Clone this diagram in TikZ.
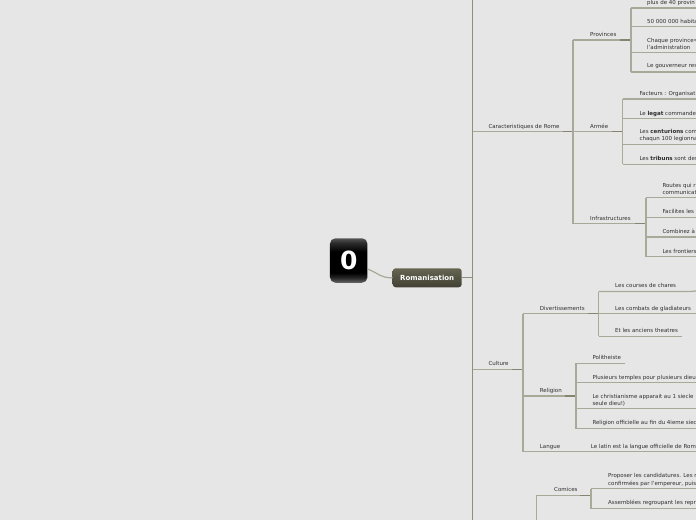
\documentclass[tikz,border=0pt]{standalone}
\usepackage{fontspec}
\setmainfont{DejaVu Sans}
\definecolor{bgc}{HTML}{E6E6E6}
\definecolor{linec}{HTML}{A9A99A}
\definecolor{stubc}{HTML}{85856F}
\definecolor{mainc}{HTML}{8F8F7E}
\definecolor{txtc}{HTML}{2E2E2E}
\definecolor{ic1}{HTML}{6A6A6A}
\definecolor{ic2}{HTML}{2C2C2C}
\definecolor{ic3}{HTML}{555555}
\definecolor{rt1}{HTML}{666552}
\definecolor{rt2}{HTML}{403F33}
\pgfdeclareverticalshading{iconshade}{100bp}{color(0bp)=(ic1);color(25bp)=(ic1);color(30bp)=(ic2);color(36bp)=(black);color(60bp)=(black);color(70bp)=(ic2);color(75bp)=(ic3);color(100bp)=(ic3)}
\pgfdeclareverticalshading{rootshade}{100bp}{color(0bp)=(rt2);color(25bp)=(rt2);color(75bp)=(rt1);color(100bp)=(rt1)}
\tikzset{
  x=1pt,y=-1pt,
  lbl/.style={anchor=west,inner sep=0pt,text=txtc,align=left,font=\fontsize{5.5}{7.2}\selectfont},
  branch/.style={draw=linec,line width=1.25pt},
  stub/.style={draw=stubc,line width=1.5pt},
  spine/.style={draw=mainc,line width=1.1pt},
  rootbox/.style={rounded corners=3pt,minimum width=69pt,minimum height=19pt,inner sep=0pt,
    shading=rootshade,text=white,font=\fontsize{7}{8}\selectfont\bfseries},
  iconbox/.style={rounded corners=5.5pt,minimum width=37.5pt,minimum height=44.5pt,inner sep=0pt,
    shading=iconshade,text=white,font=\fontsize{25}{27}\selectfont\bfseries},
}
\begin{document}
\begin{tikzpicture}
\useasboundingbox (0,0) rectangle (696,520);
\fill[bgc] (0,0) rectangle (696,520);
\clip (0,0) rectangle (696,520);
% root
\node[rootbox] (root) at (427.2,277.8) {Romanisation};
\node[iconbox] (icon) at (348.7,260.5) {0};
\draw[draw=linec,line width=1.2pt] (icon.east |- 0,269) .. controls (380,274) and (380,277.8) .. (root.west);
% spine
\coordinate (sTop) at (472.5,0);
\coordinate (sBot) at (472.5,520);
\coordinate (sRoot) at (472.5,277.8);
\draw[spine] (sTop) -- (sBot);
\draw[spine] (root.east) -- (sRoot);
% level 1
\coordinate (sCar) at (472.5,131.7);
\coordinate (sCul) at (472.5,369.3);
\coordinate (jCar) at (573,131.7);
\coordinate (jCul) at (523,369.3);
\draw[branch] (sCar) -- (jCar);
\draw[stub] (563,131.7) -- (jCar);
\draw[branch] (sCul) -- (jCul);
\draw[stub] (512,369.3) -- (jCul);
\node[lbl] (car) at (488.3,126.5) {Caracteristiques de Rome};
\node[lbl] (cul) at (488.3,363.5) {Culture};
% Caracteristiques children
\coordinate (jProvT) at (573,40);
\coordinate (jInfB) at (573,223.5);
\draw[branch] (jProvT) -- (jInfB);
\node[lbl] (prov) at (590,34.5) {Provinces};
\node[lbl] (arm) at (590,126.5) {Armée};
\node[lbl] (inf) at (590,218.5) {Infrastructures};
% Provinces
\coordinate (jProv) at (631,40);
\draw[branch] (jProvT) -- (jProv);
\draw[stub] (620,40) -- (jProv);
\draw[branch] (631,8) -- (631,72);
\foreach \yy/\xe in {8/696,26.5/696,52.5/696,72/696}{\draw[branch] (631,\yy) -- (\xe,\yy);}
\node[lbl] (p1) at (647,2.5) {plus de 40 provin};
\node[lbl] (p2) at (647,21.5) {50 000 000 habita};
\node[lbl] (p3) at (647,44) {Chaque province=\\l'administration};
\node[lbl] (p4) at (647,66.5) {Le gouverneur res};
% Armee
\coordinate (jArm) at (622.5,131.7);
\draw[branch] (jCar) -- (jArm);
\draw[stub] (612,131.7) -- (jArm);
\draw[branch] (622.5,99) -- (622.5,164.3);
\foreach \yy in {99,118.5,144.5,164.3}{\draw[branch] (622.5,\yy) -- (696,\yy);}
\node[lbl] (a1) at (639.3,93.5) {Facteurs : Organisat};
\node[lbl] (a2) at (639.3,113.5) {Le \textbf{legat} commande};
\node[lbl] (a3) at (639.3,135.7) {Les \textbf{centurions} com\\chaqun 100 legionna};
\node[lbl] (a4) at (639.3,158.5) {Les \textbf{tribuns} sont des};
% Infrastructures
\coordinate (jInf) at (646,223.5);
\draw[branch] (jInfB) -- (jInf);
\draw[stub] (635,223.5) -- (jInf);
\draw[branch] (646,197.5) -- (646,256.7);
\foreach \yy in {197.5,217.3,237,256.7}{\draw[branch] (646,\yy) -- (696,\yy);}
\node[lbl] (i1) at (662.3,188.7) {Routes qui r\\communicat};
\node[lbl] (i2) at (662.3,211.5) {Facilites les};
\node[lbl] (i3) at (662.3,231.5) {Combinez à};
\node[lbl] (i4) at (662.3,251.5) {Les frontiers};
% Culture children
\coordinate (jDivT) at (523,313.5);
\coordinate (jLanB) at (523,451.5);
\draw[branch] (jDivT) -- (jLanB);
\node[lbl] (div) at (539.7,308.5) {Divertissements};
\node[lbl] (rel) at (539.7,390.5) {Religion};
\node[lbl] (lan) at (539.7,447.5) {Langue};
% Divertissements
\coordinate (jDiv) at (598.5,313.5);
\draw[branch] (jDivT) -- (jDiv);
\draw[stub] (588,313.5) -- (jDiv);
\draw[branch] (598.5,291.5) -- (598.5,336.3);
\draw[branch] (598.5,291.5) -- (690,291.5) -- (696,291);
\draw[branch] (598.5,313.5) -- (696,313.5);
\draw[branch] (598.5,336.3) -- (681.7,336.3);
\node[lbl] (d1) at (615,285.5) {Les courses de chares};
\node[lbl] (d2) at (615,308.5) {Les combats de gladiateurs};
\node[lbl] (d3) at (615,330.5) {Et les anciens theatres};
% Religion
\coordinate (jRelL) at (523,396);
\coordinate (jRel) at (576,396);
\draw[branch] (jRelL) -- (jRel);
\draw[stub] (565,396) -- (jRel);
\draw[branch] (576,363.3) -- (576,428.5);
\draw[branch] (576,363.3) -- (625,363.3);
\foreach \yy in {382.7,408.3,428.5}{\draw[branch] (576,\yy) -- (696,\yy);}
\node[lbl] (r1) at (592.3,357.5) {Politheiste};
\node[lbl] (r2) at (592.3,377.5) {Plusieurs temples pour plusieurs dieu};
\node[lbl] (r3) at (592.3,400) {Le christianisme apparait au 1 siecle\\seule dieu!)};
\node[lbl] (r4) at (592.3,422.5) {Religion officielle au fin du 4ieme siec};
% Langue
\draw[branch] (jLanB) -- (696,451.5);
\node[lbl] (l1) at (590.7,446.5) {Le latin est la langue officielle de Rom};
% Comices
\coordinate (jComT) at (536.7,495.3);
\coordinate (jComB) at (536.7,520);
\coordinate (jCom) at (591,495.3);
\draw[branch] (jComT) -- (jComB);
\draw[branch] (jComT) -- (jCom);
\draw[stub] (580,495.3) -- (jCom);
\draw[branch] (591,488.5) -- (591,508.5);
\foreach \yy in {488.5,508.5}{\draw[branch] (591,\yy) -- (696,\yy);}
\node[lbl] (c0) at (554,489.5) {Comices};
\node[lbl] (c1) at (608,480) {Proposer les candidatures. Les r\\confirmées par l'empereur, puis};
\node[lbl] (c2) at (608,502.5) {Assemblées regroupant les repr};
\end{tikzpicture}
\end{document}
